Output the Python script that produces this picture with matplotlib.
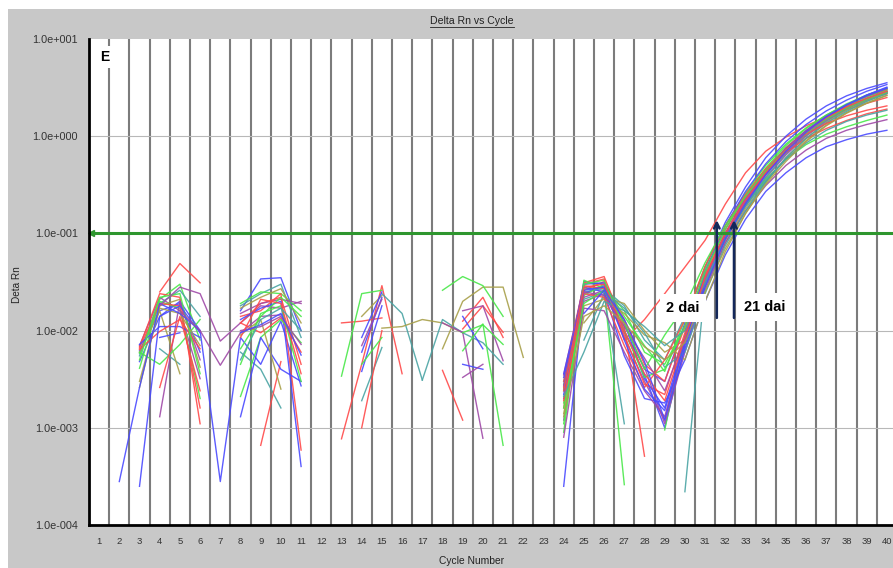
import matplotlib
matplotlib.use('Agg')
import matplotlib.pyplot as plt
from matplotlib.lines import Line2D
from matplotlib.patches import Rectangle

plt.rcParams['font.family'] = ['Liberation Sans', 'DejaVu Sans']

CYCLES = list(range(1, 41))
THRESHOLD = 0.1

# noise cluster, cycles 3-6
A_START = 3
A_CURVES = [
    [None, 0.025, 0.049, 0.031],
    [0.0058, 0.021, 0.030, 0.0080],
    [0.0062, 0.016, 0.019, 0.0060],
    [0.0070, 0.022, 0.016, 0.0032],
    [0.0055, 0.019, 0.026, 0.0140],
    [0.0026, 0.018, 0.021, 0.0042],
    [0.0068, 0.024, 0.022, 0.0011],
    [0.0048, 0.014, 0.020, 0.0100],
    [0.0041, 0.020, 0.017, 0.0020],
    [None, 0.0013, 0.020, 0.0050],
    [0.0066, 0.019, 0.018, 0.0016],
    [None, 0.0065, 0.0045, None],
    [0.0060, 0.016, 0.0036, None],
    [0.0072, 0.011, 0.011, 0.0085],
    [0.0060, 0.0045, 0.0072, 0.013],
    [0.0064, 0.0098, 0.0130, 0.0065],
    [None, 0.0085, 0.0095, None],
    [None, 0.0026, 0.014, 0.0024],
    [0.0050, 0.022, 0.024, 0.0036],
    [0.0030, 0.017, 0.015, 0.0070],
]
A_COLORS = 'rgbptorbgprtobgrbrgo'

# lines running through both early clusters, cycles 2-11
LINK_START = 2
LINK_CURVES = [
    [0.00028, 0.0026, 0.019, 0.015, 0.0100, 0.00028, 0.0085, 0.0045, 0.0125, 0.0027],
    [None, 0.00025, 0.014, 0.018, 0.0095, None, None, None, None, None],
    [None, None, 0.018, 0.028, 0.024, 0.0078, 0.012, 0.018, 0.017, 0.020],
    [None, None, None, 0.016, 0.0100, 0.0044, 0.0095, 0.0140, 0.0145, None],
]
LINK_COLORS = 'bbpp'

# noise cluster, cycles 8-11
B_START = 8
B_CURVES = [
    [0.016, 0.034, 0.035, 0.010],
    [0.018, 0.024, 0.030, 0.0085],
    [0.019, 0.025, 0.024, 0.016],
    [0.017, 0.022, 0.027, 0.012],
    [0.012, 0.019, 0.022, 0.0045],
    [0.015, 0.019, 0.021, 0.019],
    [0.0140, 0.016, 0.024, 0.00059],
    [0.013, 0.017, 0.020, 0.0004],
    [0.0065, 0.014, 0.022, 0.014],
    [0.0120, 0.0095, 0.0135, 0.0060],
    [0.0060, 0.0040, 0.0016, None],
    [0.0021, 0.0085, 0.0130, 0.0075],
    [None, 0.00066, 0.0048, None],
    [0.0013, 0.0085, 0.0040, 0.0030],
    [0.0090, 0.013, 0.0025, None],
    [0.0045, 0.015, 0.018, 0.0030],
    [0.0100, 0.011, 0.0140, 0.0072],
    [0.0085, 0.021, 0.019, 0.0036],
    [0.0095, 0.0115, 0.015, 0.0056],
    [0.0050, 0.013, 0.017, 0.0100],
]
B_COLORS = 'btgorprbgrtgrbogprbt'

# noise cluster, cycles 13-17
C_START = 13
C_CURVES = [
    [0.00077, 0.0045, 0.029, 0.0036, None],
    [0.012, 0.0125, 0.0135, None, None],
    [0.0034, 0.024, 0.026, None, None],
    [None, 0.0019, 0.0067, None, None],
    [None, 0.0010, 0.0100, None, None],
    [None, 0.0060, 0.022, None, None],
    [None, 0.0038, 0.018, None, None],
    [None, 0.0070, 0.021, None, None],
    [None, 0.0140, 0.023, None, None],
    [None, None, 0.024, 0.015, 0.0031],
    [None, 0.0045, 0.0085, None, None],
    [None, 0.0085, 0.025, None, None],
]
C_COLORS = 'rrgtrbbpotgb'

# noise cluster, cycles 15-22
D_START = 15
D_CURVES = [
    [0.0106, 0.011, 0.013, 0.012, 0.0095, None, None, None],
    [None, None, 0.0031, 0.013, 0.0095, 0.0075, 0.0045, None],
    [None, None, None, 0.0065, 0.020, 0.028, 0.028, 0.0053],
    [None, None, None, 0.026, 0.036, 0.029, 0.014, None],
    [None, None, None, None, 0.0104, 0.018, 0.0096, None],
    [None, None, None, None, 0.0125, 0.022, 0.0085, None],
    [None, None, None, None, 0.016, 0.018, 0.0049, None],
    [None, None, None, 0.012, 0.0096, 0.00078, None, None],
    [None, None, None, None, 0.014, 0.0065, None, None],
    [None, None, None, None, 0.0045, 0.0040, None, None],
    [None, None, None, None, 0.0062, 0.0117, 0.00066, None],
    [None, None, None, 0.0039, 0.0012, None, None, None],
    [None, None, None, None, 0.0033, 0.0045, None, None],
    [None, None, None, None, 0.0095, 0.0115, 0.0072, None],
]
D_COLORS = 'otogrrppbbgrpg'

# last noise cluster + amplification, cycles 24-40
E_START = 24
E_CURVES = [
    [0.0035, 0.030, 0.034, 0.0080, 0.013, 0.024, 0.045, 0.085, 0.20, 0.42, 0.70, 0.98, 1.28, 1.58, 1.88, 2.18, 2.50],
    [0.0025, 0.032, 0.030, 0.012, 0.0040, 0.0030, 0.012, 0.045, 0.13, 0.30, 0.60, 1.00, 1.50, 2.05, 2.60, 3.10, 3.55],
    [0.0018, 0.027, 0.028, 0.016, 0.0060, 0.0045, 0.011, 0.036, 0.10, 0.22, 0.42, 0.72, 1.10, 1.55, 2.05, 2.55, 3.00],
    [0.0012, 0.022, 0.026, 0.0085, 0.0030, 0.0012, 0.0085, 0.030, 0.085, 0.19, 0.37, 0.64, 1.00, 1.42, 1.90, 2.35, 2.80],
    [0.0030, 0.025, 0.027, 0.018, 0.0080, 0.0050, 0.014, 0.042, 0.11, 0.24, 0.45, 0.76, 1.12, 1.55, 2.00, 2.45, 2.90],
    [None, 0.012, 0.022, 0.019, 0.010, 0.0060, 0.0080, 0.028, 0.080, 0.18, 0.34, 0.58, 0.90, 1.30, 1.75, 2.20, 2.65],
    [0.0026, 0.031, 0.036, 0.011, 0.00051, None, 0.0100, 0.038, 0.10, 0.22, 0.43, 0.74, 1.10, 1.50, 1.95, 2.35, 2.75],
    [0.00025, 0.024, 0.029, 0.0100, 0.0035, 0.0010, 0.0070, 0.030, 0.090, 0.21, 0.41, 0.72, 1.12, 1.60, 2.10, 2.65, 3.20],
    [0.0009, 0.033, 0.027, 0.00026, None, 0.00095, 0.0090, 0.034, 0.095, 0.20, 0.36, 0.58, 0.82, 1.05, 1.25, 1.45, 1.65],
    [0.0020, 0.020, 0.024, 0.0095, 0.0042, 0.0011, 0.0060, 0.026, 0.080, 0.17, 0.31, 0.50, 0.72, 0.95, 1.15, 1.32, 1.48],
    [None, 0.0080, 0.024, 0.0011, None, None, 0.00022, 0.030, 0.090, 0.20, 0.38, 0.66, 1.02, 1.45, 1.90, 2.35, 2.80],
    [0.0016, 0.026, 0.032, 0.013, 0.0045, 0.0030, 0.011, 0.040, 0.11, 0.24, 0.44, 0.68, 0.95, 1.20, 1.45, 1.70, 1.90],
    [0.0036, 0.028, 0.025, 0.0055, 0.0020, 0.0018, 0.0050, 0.020, 0.060, 0.14, 0.27, 0.42, 0.60, 0.78, 0.92, 1.05, 1.15],
    [0.0024, 0.023, 0.030, 0.014, 0.0070, 0.0038, 0.013, 0.045, 0.12, 0.26, 0.50, 0.83, 1.22, 1.65, 2.10, 2.55, 3.00],
    [0.0014, 0.018, 0.021, 0.015, 0.0090, 0.0075, 0.0050, 0.020, 0.065, 0.16, 0.33, 0.60, 0.95, 1.38, 1.85, 2.30, 2.75],
    [0.0030, 0.029, 0.027, 0.0090, 0.0028, 0.0022, 0.0095, 0.036, 0.10, 0.23, 0.44, 0.76, 1.15, 1.62, 2.10, 2.60, 3.05],
    [0.0022, 0.030, 0.031, 0.012, 0.0032, 0.0016, 0.0085, 0.040, 0.12, 0.27, 0.52, 0.88, 1.32, 1.82, 2.35, 2.90, 3.40],
    [0.0008, 0.017, 0.016, 0.0060, 0.0024, 0.0013, 0.0075, 0.032, 0.095, 0.21, 0.40, 0.68, 1.05, 1.48, 1.95, 2.40, 2.85],
    [0.0028, 0.021, 0.025, 0.017, 0.0095, 0.0042, 0.0060, 0.024, 0.075, 0.17, 0.34, 0.60, 0.95, 1.36, 1.80, 2.28, 2.75],
    [0.0011, 0.030, 0.033, 0.0100, 0.0033, 0.0040, 0.011, 0.040, 0.11, 0.25, 0.47, 0.80, 1.20, 1.65, 2.15, 2.65, 3.10],
    [0.0019, 0.024, 0.022, 0.0070, 0.0026, 0.0050, 0.0130, 0.046, 0.12, 0.25, 0.46, 0.74, 1.05, 1.35, 1.62, 1.85, 2.05],
    [0.0033, 0.026, 0.028, 0.0080, 0.0025, 0.0015, 0.0075, 0.033, 0.10, 0.22, 0.42, 0.74, 1.14, 1.60, 2.10, 2.60, 3.10],
    [0.0027, 0.025, 0.023, 0.011, 0.0052, 0.0024, 0.0085, 0.034, 0.10, 0.23, 0.43, 0.74, 1.12, 1.55, 2.00, 2.45, 2.90],
    [0.0016, 0.019, 0.026, 0.0120, 0.0040, 0.0090, 0.018, 0.050, 0.12, 0.24, 0.44, 0.72, 1.08, 1.50, 1.95, 2.40, 2.85],
    [0.0021, 0.0060, 0.020, 0.016, 0.0110, 0.0070, 0.010, 0.032, 0.088, 0.19, 0.35, 0.58, 0.85, 1.15, 1.42, 1.65, 1.85],
    [0.0024, 0.028, 0.030, 0.010, 0.0036, 0.0019, 0.0085, 0.035, 0.10, 0.22, 0.42, 0.72, 1.10, 1.55, 2.00, 2.45, 2.90],
    [None, 0.015, 0.026, 0.013, 0.0048, 0.0012, 0.0065, 0.028, 0.088, 0.20, 0.40, 0.70, 1.10, 1.58, 2.10, 2.65, 3.15],
    [0.0013, 0.014, 0.018, 0.012, 0.0068, 0.0050, 0.0075, 0.025, 0.070, 0.16, 0.32, 0.55, 0.88, 1.28, 1.72, 2.18, 2.62],
]
E_COLORS = 'rbgptorbgptrbgorbptgrbpgtrbo'

Y_TICKS = [1e-4, 1e-3, 1e-2, 1e-1, 1e0, 1e1]
Y_LABELS = ['1.0e-004', '1.0e-003', '1.0e-002', '1.0e-001', '1.0e+000', '1.0e+001']

PALETTE = {
    'r': '#ff4a4a', 'b': '#4a4aff', 'g': '#4ae84a',
    'p': '#a04aa8', 't': '#4aa4a4', 'o': '#a8a04a',
}


def to_nan(values):
    return [float('nan') if v is None else v for v in values]


def plot_cluster(ax, start, curves, colors):
    for i, values in enumerate(curves):
        x = list(range(start, start + len(values)))
        ax.plot(x, to_nan(values), color=PALETTE[colors[i % len(colors)]],
                lw=1.0, alpha=0.9, zorder=3)


fig = plt.figure(figsize=(8.93, 5.68), dpi=100)
fig.patch.set_facecolor('white')
fig.patches.append(Rectangle((8 / 893, 0), 1, 559 / 568, transform=fig.transFigure,
                             facecolor='#c8c8c8', edgecolor='none', zorder=-10))

ax = fig.add_axes([89 / 893, 43 / 568, 808 / 893, 486 / 568])
ax.set_facecolor('white')
ax.set_yscale('log')
ax.set_xlim(0.5, 40.5)
ax.set_ylim(1e-4, 1e1)

for c in CYCLES[:-1]:
    ax.axvline(c + 0.5, color='#7c7c7c', lw=1.5, zorder=1)
for t in Y_TICKS[1:-1]:
    ax.axhline(t, color='#b8b8b8', lw=0.8, zorder=1)

ax.set_xticks(CYCLES)
ax.set_xticklabels([str(c) for c in CYCLES], fontsize=6.8, color='#333333')
ax.set_yticks(Y_TICKS)
ax.set_yticklabels(Y_LABELS, fontsize=7.8, color='#333333')
ax.minorticks_off()
ax.tick_params(axis='both', length=0)
ax.tick_params(axis='x', pad=9)
ax.tick_params(axis='y', pad=8)

for side in ['top', 'right']:
    ax.spines[side].set_visible(False)
for side in ['left', 'bottom']:
    ax.spines[side].set_linewidth(2.0)
    ax.spines[side].set_color('black')
    ax.spines[side].set_zorder(6)

plot_cluster(ax, A_START, A_CURVES, A_COLORS)
plot_cluster(ax, LINK_START, LINK_CURVES, LINK_COLORS)
plot_cluster(ax, B_START, B_CURVES, B_COLORS)
plot_cluster(ax, C_START, C_CURVES, C_COLORS)
plot_cluster(ax, D_START, D_CURVES, D_COLORS)
plot_cluster(ax, E_START, E_CURVES, E_COLORS)

# threshold
ax.axhline(THRESHOLD, color='#2e962e', lw=2.2, zorder=4)
ax.plot([0.62], [THRESHOLD], marker='<', ms=4, color='#2e962e', zorder=5, clip_on=False)

ax.text(0.0198, 0.963, 'E', transform=ax.transAxes, fontsize=10, fontweight='bold',
        ha='center', va='center', zorder=6,
        bbox=dict(facecolor='white', edgecolor='none', pad=3))

# annotations
box = dict(facecolor='white', edgecolor='none', boxstyle='square,pad=0.45')
ax.text(29.9, 0.0171, '2 dai', fontsize=10.5, fontweight='bold', ha='center', va='center',
        zorder=7, bbox=box)
ax.text(33.97, 0.0175, '21 dai', fontsize=10.5, fontweight='bold', ha='center', va='center',
        zorder=7, bbox=box)
for xa in [31.58, 32.43]:
    ax.annotate('', xy=(xa, 0.137), xytext=(xa, 0.0135), zorder=8,
                arrowprops=dict(arrowstyle='->', color='#14285a', lw=1.8,
                                mutation_scale=10, shrinkA=0, shrinkB=0))

title = fig.text(472 / 893, 1 - 21 / 568, 'Delta Rn vs Cycle', fontsize=7.6, color='#222222',
                 ha='center', va='center')
fig.text(17 / 893, 1 - 285 / 568, 'Deta Rn', fontsize=7.2, rotation=90,
         ha='center', va='center', color='#222222')
fig.text(472 / 893, 1 - 561 / 568, 'Cycle Number', fontsize=7.4, ha='center', va='center',
         color='#222222')

# underline the title
fig.canvas.draw()
bb = title.get_window_extent()
fig.add_artist(Line2D([bb.x0 / 893, bb.x1 / 893], [(bb.y0 - 1) / 568, (bb.y0 - 1) / 568],
                      transform=fig.transFigure, color='#222222', lw=0.6))

fig.savefig('out.png', dpi=100, facecolor=fig.get_facecolor())
